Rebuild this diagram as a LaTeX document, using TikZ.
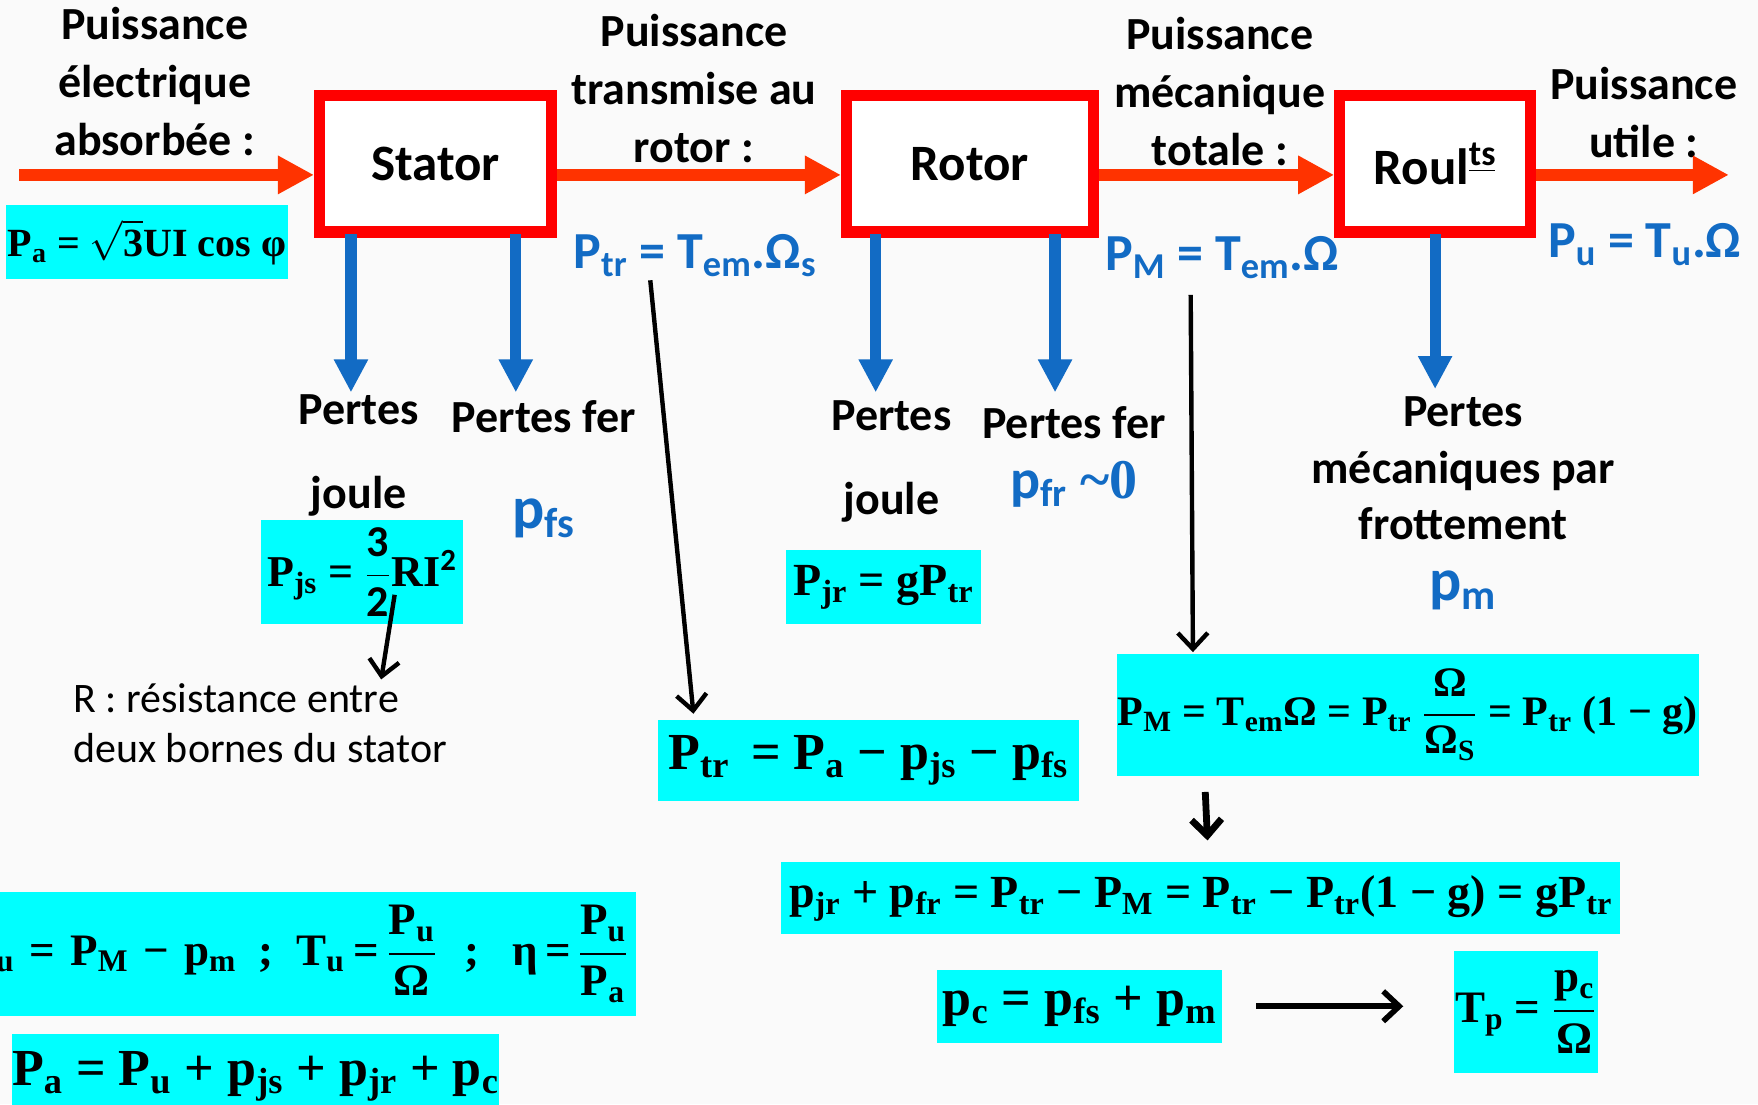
\RequirePackage{fix-cm}
\documentclass[tikz,border=0pt]{standalone}
\usepackage{fontspec}
\usepackage{amsmath}
\setmainfont{Carlito}
\newfontfamily\tnr{Liberation Serif}
\usetikzlibrary{arrows.meta, calc}

\definecolor{flowred}{RGB}{255,51,0}
\definecolor{boxred}{RGB}{255,0,0}
\definecolor{lossblue}{RGB}{18,107,196}
\definecolor{eqcyan}{RGB}{0,255,255}
\definecolor{paper}{RGB}{250,250,250}

\newcommand\sub[1]{\textsubscript{#1}}
\newcommand\fr[2]{\(\genfrac{}{}{0.9pt}{0}{\mbox{#1}}{\mbox{#2}}\)}

\tikzset{
    % Blocks and texts
    block/.style = {rectangle, draw=boxred, line width=5.6pt, fill=white, inner sep=0pt,
        minimum height=68.4pt, font=\bfseries\fontsize{25.5}{30}\selectfont},
    head/.style  = {align=center, font=\bfseries\fontsize{23}{29}\selectfont},
    loss/.style  = {align=center, font=\bfseries\fontsize{23}{28.3}\selectfont},
    val/.style   = {text=lossblue, font=\bfseries\fontsize{#1}{#1}\selectfont},
    eq/.style    = {fill=eqcyan, inner sep=0pt, font=\tnr\bfseries\fontsize{#1}{#1}\selectfont},
    % Arrows
    flow/.style    = {draw=flowred, line width=6.3pt, -{Triangle[length=18pt,width=18pt]}},
    lossarr/.style = {draw=lossblue, line width=5.6pt, -{Triangle[length=16.5pt,width=16pt]}},
    link/.style    = {line width=2.2pt, -{Straight Barb[length=8pt,width=15pt]}},
}

\begin{document}
\begin{tikzpicture}[x=0.5606pt, y=-0.5606pt]
    \useasboundingbox (0,0) rectangle (1568,985);
    \clip (0,0) rectangle (1568,985);
    \fill[paper] (0,0) rectangle (1568,985);

    % Blocks
    \node (stator) [block, minimum width=116pt] at (388.5,146) {Stator};
    \node (rotor) [block, minimum width=123.3pt] at (865,146) {Rotor};
    \node (roul) [block, minimum width=95.3pt] at (1280,146) {Roul\textsuperscript{\underline{ts}}};

    % Power headings
    \node (hin) [head] at (138,73) {Puissance\\électrique\\absorbée :};
    \node (htr) [head] at (619,79) {Puissance\\transmise au\\rotor :};
    \node (hme) [head] at (1088,82) {Puissance\\mécanique\\totale :};
    \node (hut) [head] at (1466,100) {Puissance\\utile :};

    % Power flow
    \coordinate (fin) at (17,156);
    \coordinate (fout) at (1542,156);
    \draw [flow] (fin) -- (stator.west |- fin);
    \draw [flow] (stator.east |- fin) -- (rotor.west |- fin);
    \draw [flow] (rotor.east |- fin) -- (roul.west |- fin);
    \draw [flow] (roul.east |- fin) -- (fout);

    % Power values
    \node (pabox) [eq=20, minimum width=141.3pt, minimum height=37pt] at (131,216)
        {P\sub{a} = \(\sqrt{\mbox{3}}\)UI cos φ};
    \node (ptrlbl) [val=26] at (620,228) {P\sub{tr} = T\sub{em}.Ω\sub{s}};
    \node (pmlbl) [val=26] at (1090,230) {P\sub{M} = T\sub{em}.Ω};
    \node (pulbl) [val=26] at (1467,218) {P\sub{u} = T\sub{u}.Ω};

    % Losses
    \draw [lossarr] ([shift={(33,-3)}]stator.south west) -- ++(0,141);
    \draw [lossarr] ([shift={(180,-3)}]stator.south west) -- ++(0,141);
    \draw [lossarr] ([shift={(31,-3)}]rotor.south west) -- ++(0,141);
    \draw [lossarr] ([shift={(191,-3)}]rotor.south west) -- ++(0,141);
    \draw [lossarr] ([shift={(0,-3)}]roul.south) -- ++(0,138);

    \node (ljs) [loss, font=\bfseries\fontsize{23}{42}\selectfont] at (320,406) {Pertes\\joule};
    \node (lfs) [loss] at (485,372) {Pertes fer};
    \node (vfs) [val=30] at (485,462) {p\sub{fs}};
    \node (ljr) [loss, font=\bfseries\fontsize{23}{42}\selectfont] at (795,412) {Pertes\\joule};
    \node (lfr) [loss] at (958,377) {Pertes fer};
    \node (vfr) [val=28] at (958,432) {p\sub{fr} {\tnr\textasciitilde0}};
    \node (lme) [loss] at (1305,418) {Pertes\\mécaniques par\\frottement};
    \node (vme) [val=30] at (1305,527) {p\sub{m}};

    % Formulas
    \node (pjs) [eq=22, minimum width=100.9pt, minimum height=52.1pt] at (323,510.5)
        {P\sub{js} = \fr{\rmfamily 3}{\rmfamily 2}RI\textsuperscript{\rmfamily 2}};
    \node (rnote) [anchor=west, align=left, inner sep=0pt, font=\fontsize{21}{25}\selectfont]
        at (65,645) {R : résistance entre\\deux bornes du stator};
    \node (pjr) [eq=23, minimum width=97.5pt, minimum height=37pt] at (788,524)
        {P\sub{jr} = gP\sub{tr}};
    \node (ptrbox) [eq=26, minimum width=210.2pt, minimum height=40.4pt] at (774.5,678)
        {P\sub{tr} \,= P\sub{a} − p\sub{js} − p\sub{fs}};
    \node (pmbox) [eq=21, minimum width=291pt, minimum height=61.1pt] at (1255.5,637.5)
        {P\sub{M} = T\sub{em}Ω = P\sub{tr} \fr{Ω}{Ω\sub{S}} = P\sub{tr} (1 − g)};
    \node (pjf) [eq=23, minimum width=419.3pt, minimum height=35.9pt] at (1071,801)
        {p\sub{jr} + p\sub{fr} = P\sub{tr} − P\sub{M} = P\sub{tr} − P\sub{tr}(1 − g) = gP\sub{tr}};
    \node (pcbox) [eq=26, minimum width=142.4pt, minimum height=36.4pt] at (963,897.5)
        {p\sub{c} = p\sub{fs} + p\sub{m}};
    \node (tpbox) [eq=22.5, minimum width=71.8pt, minimum height=61.1pt] at (1361,902.5)
        {T\sub{p} = \fr{p\sub{c}}{Ω}};
    \node (pubox) [eq=22.5, anchor=east, text width=420pt, align=right, inner xsep=4pt,
        minimum height=61.7pt] at (568,851)
        {P\sub{u} = P\sub{M} − p\sub{m}\hspace{0.5em};\hspace{0.5em}T\sub{u}\hspace{0.2em}=\hspace{0.15em}\fr{P\sub{u}}{Ω}\hspace{0.6em};\hspace{0.75em}η\hspace{0.15em}=\hspace{0.15em}\fr{P\sub{u}}{P\sub{a}}};
    \node (pabot) [eq=26, minimum width=241pt, minimum height=42.6pt] at (228,960)
        {P\sub{a} = P\sub{u} + p\sub{js} + p\sub{jr} + p\sub{c}};

    % Links between formulas
    \coordinate (rtip) at (340,606);
    \draw [link] ([shift={(29,20)}]pjs.center) -- (rtip);
    \draw [link] ([shift={(-40,22)}]ptrlbl.center) -- ([shift={(-156,-5)}]ptrbox.north);
    \draw [link] ([shift={(-28,33)}]pmlbl.center) -- ([shift={(-191.5,-1)}]pmbox.north);
    \draw [link, line width=3.4pt] ([shift={(-180.5,14)}]pmbox.south) -- ([shift={(6,-19)}]pjf.north);
    \draw [link, line width=2.8pt] ([shift={(30,0)}]pcbox.east) -- ([shift={(-45,-5)}]tpbox.west);
\end{tikzpicture}
\end{document}
